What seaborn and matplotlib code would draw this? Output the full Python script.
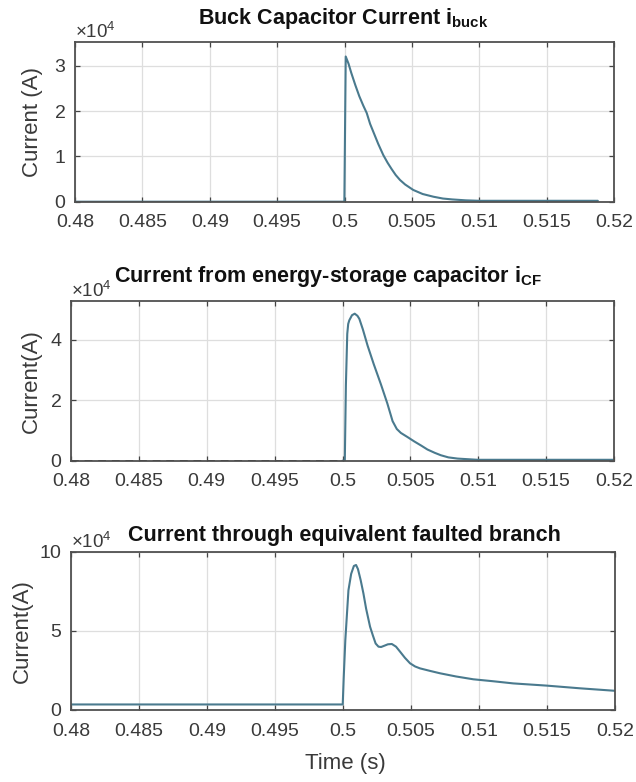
import numpy as np
import pandas as pd
import matplotlib
matplotlib.use("Agg")
import matplotlib.pyplot as plt
import matplotlib.ticker as mticker
import seaborn as sns

# ---------------- data ----------------
t_buck = [0.480, 0.49999, 0.50009, 0.5003, 0.5005, 0.5008, 0.5011, 0.5014, 0.50165,
          0.5019, 0.5022, 0.5025, 0.50288, 0.5032, 0.5035, 0.5038, 0.50412, 0.5045,
          0.5051, 0.5058, 0.5066, 0.5073, 0.5080, 0.5090, 0.5100, 0.5188]
i_buck = [0, 0, 32100, 30500, 28500, 25800, 23300, 21200, 19600,
          17200, 15000, 12800, 10300, 8600, 7200, 5900, 4800, 3800,
          2600, 1700, 1100, 700, 500, 300, 200, 200]

t_cf_pre = [0.480, 0.500]
i_cf_pre = [0, 0]
t_cf = [0.5000, 0.50017, 0.50025, 0.50035, 0.50042, 0.5005, 0.5007, 0.5009, 0.5011,
        0.50124, 0.5015, 0.50185, 0.5023, 0.50283, 0.5033, 0.50369, 0.5040, 0.5043,
        0.5048, 0.50528, 0.5058, 0.50626, 0.5068, 0.50725, 0.5078, 0.50848, 0.50995,
        0.5150, 0.5200]
i_cf = [0, 0, 25000, 42000, 45300, 46500, 48200, 48700, 48000,
        47000, 43500, 38100, 32000, 25300, 19000, 13100, 10500, 9200,
        7800, 6400, 5000, 3700, 2600, 1800, 1100, 700, 300,
        300, 300]

t_fault = [0.480, 0.49998, 0.50005, 0.50017, 0.5004, 0.5006, 0.5008, 0.50096, 0.5011,
           0.5013, 0.5015, 0.5017, 0.50199, 0.5022, 0.5024, 0.50261, 0.5028, 0.50298,
           0.5033, 0.50359, 0.5039, 0.5042, 0.50455, 0.50493, 0.5053, 0.50566, 0.5064,
           0.50713, 0.5083, 0.50958, 0.5110, 0.51252, 0.51498, 0.51743, 0.51988, 0.5200]
i_fault = [3500, 3500, 20000, 44000, 75600, 86000, 91000, 91600, 89000,
           82000, 73700, 64000, 52600, 47000, 42000, 40000, 39800, 40400,
           41500, 41700, 40000, 36800, 33000, 29500, 27500, 26300, 24700,
           23200, 21200, 19400, 18200, 16800, 15400, 13700, 12200, 12100]

titles = [r"Buck Capacitor Current i$_{\mathbf{buck}}$",
          r"Current from energy-storage capacitor i$_{\mathbf{CF}}$",
          r"Current through equivalent faulted branch"]
ylabels = ["Current (A)", "Current(A)", "Current(A)"]
xticks = [0.48, 0.485, 0.49, 0.495, 0.5, 0.505, 0.51, 0.515, 0.52]
xticklabels = ["0.48", "0.485", "0.49", "0.495", "0.5", "0.505", "0.51", "0.515", "0.52"]
yticks = [[0, 10000, 20000, 30000], [0, 20000, 40000], [0, 50000, 100000]]
ylims = [(0, 35300), (0, 53000), (0, 100000)]

# ---------------- style ----------------
sns.set_theme(style="whitegrid")
plt.rcParams["font.family"] = ["Liberation Sans", "DejaVu Sans"]
plt.rcParams["mathtext.fontset"] = "custom"
plt.rcParams["mathtext.rm"] = "Liberation Sans"
plt.rcParams["mathtext.bf"] = "Liberation Sans:bold"

LINE = "#4a7a8e"
TXT = "#3a3a3a"

fig = plt.figure(figsize=(6.36, 7.82), dpi=100)
W, H = 636, 782
boxes = [(75, 614, 42, 201.7), (71, 614, 300.7, 460.7), (71, 615, 551.7, 710)]
axes = []
for (l, r, t, b) in boxes:
    axes.append(fig.add_axes([l / W, 1 - b / H, (r - l) / W, (b - t) / H]))

def lp(ax, x, y, **kw):
    df = pd.DataFrame({"t": x, "i": y})
    sns.lineplot(data=df, x="t", y="i", ax=ax, sort=False, estimator=None, **kw)

lp(axes[0], t_buck, i_buck, color=LINE, linewidth=1.5)
lp(axes[1], t_cf_pre, i_cf_pre, color="#222222", linewidth=1.4, linestyle=(0, (4, 3)))
lp(axes[1], t_cf, i_cf, color=LINE, linewidth=1.5)
lp(axes[2], t_fault, i_fault, color=LINE, linewidth=1.5)

ylab_x = [-0.0594, -0.0534, -0.0699]
for k, ax in enumerate(axes):
    ax.set_xlim(0.48, 0.52)
    ax.set_ylim(*ylims[k])
    ax.set_xticks(xticks)
    ax.set_xticklabels(xticklabels)
    ax.set_yticks(yticks[k])
    fmt = mticker.ScalarFormatter(useMathText=True)
    fmt.set_powerlimits((4, 4))
    ax.yaxis.set_major_formatter(fmt)
    ax.yaxis.get_offset_text().set_fontsize(13.5)
    ax.yaxis.get_offset_text().set_color("#666666")
    ax.tick_params(axis="both", direction="in", length=3.5, width=0.9,
                   colors="#444444", labelcolor=TXT, labelsize=14,
                   top=True, right=True, bottom=True, left=True)
    ax.tick_params(axis="x", pad=9)
    ax.tick_params(axis="y", pad=6.5)
    ax.grid(True, color="#dedede", linewidth=0.9)
    for s in ax.spines.values():
        s.set_visible(True)
        s.set_color("#505050")
        s.set_linewidth(1.3)
    ax.set_ylabel(ylabels[k], fontsize=16, color=TXT)
    ax.yaxis.set_label_coords(ylab_x[k], 0.5)
    ax.set_xlabel("")

# titles placed at the reference positions (centre x, baseline y in pixels)
title_pos = [(343, 24), (328, 282), (344, 541)]
for k, (cx, by) in enumerate(title_pos):
    fig.text(cx / W, 1 - by / H, titles[k], fontsize=15.5, fontweight="bold",
             color="#111111", ha="center", va="baseline")

fig.text(345 / W, 1 - 763 / H, "Time (s)", fontsize=16, color=TXT,
         ha="center", va="center")

fig.savefig("out.png", dpi=100, facecolor="white")
